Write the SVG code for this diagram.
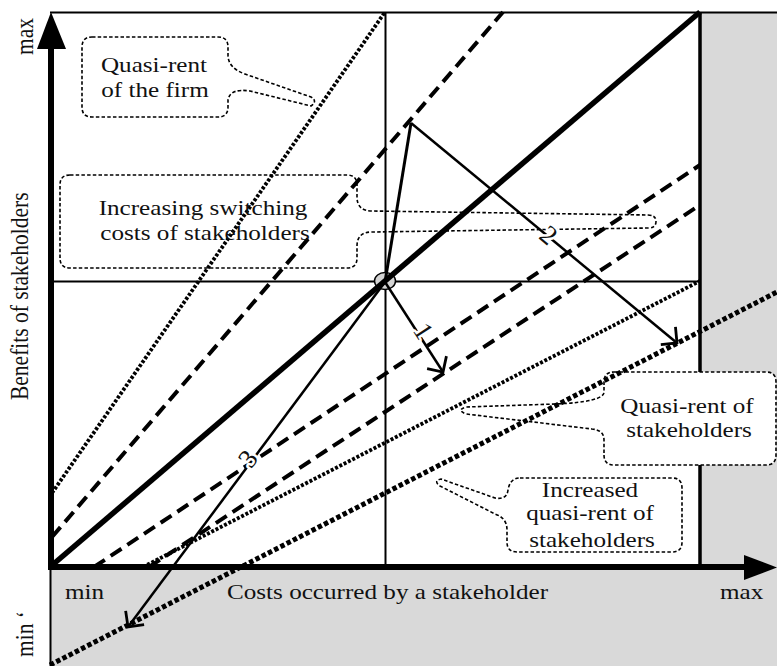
<svg xmlns="http://www.w3.org/2000/svg" width="777" height="666" viewBox="0 0 777 666">
<defs>
<style>
.txt{font-family:"Liberation Serif","Times New Roman",serif;font-size:21.5px;fill:#111}
.num{font-family:"Liberation Serif","Times New Roman",serif;font-size:27px;fill:#111;stroke:#fff;stroke-width:5;paint-order:stroke;stroke-linejoin:round}
.call{fill:none;stroke:#000;stroke-width:1.6;stroke-dasharray:3.5 2.2}
.dash{fill:none;stroke:#000;stroke-width:4;stroke-dasharray:13 7}
.dotf{fill:none;stroke:#000;stroke-width:3.8;stroke-dasharray:3 1.8}
.dotb{fill:none;stroke:#000;stroke-width:5;stroke-dasharray:4.5 2.5}
.ln{fill:none;stroke:#000}
.arr{fill:none;stroke:#000;stroke-width:2.5;marker-end:url(#open)}
</style>
<marker id="open" markerUnits="userSpaceOnUse" viewBox="-14 -14 16 28" markerWidth="16" markerHeight="28" refX="0" refY="0" orient="auto">
<path d="M-11.5,-11.5 L0,0 L-11.5,11.5" fill="none" stroke="#000" stroke-width="2.8"/>
</marker>
</defs>

<!-- shaded area outside the feasible cost range -->
<g id="shade">
<rect x="50" y="568" width="727" height="98" fill="#d9d9d9"/>
<rect x="701" y="13" width="76" height="555" fill="#d9d9d9"/>
</g>

<!-- callout box that sits over the shaded area gets an opaque fill -->
<g id="callout-stakeholders">
<path class="call" style="fill:#fff" d="M614,372 H766 Q776,372 776,382 V455 Q776,465 766,465 H614 Q604,465 604,455 V440 Q604,430 592,429 L466,414 Q456,410 466,407 L555,404 Q604,402 604,392 V382 Q604,372 614,372 Z"/>
</g>

<g id="frame">
<path class="ln" stroke-width="2" d="M50,12.5 H777"/>
<path class="ln" stroke-width="3.5" d="M700,12 V372 M700,465 V568"/>
<path class="ln" stroke-width="2" d="M385.5,12 V568"/>
<path class="ln" stroke-width="1.8" d="M50,281.5 H700"/>
<path class="ln" stroke-width="2" d="M50.5,568 V666"/>
</g>

<g id="origin-point">
<ellipse cx="385" cy="281" rx="10.5" ry="8.5" fill="#d4d4d4" stroke="#000" stroke-width="1.5"/>
</g>

<g id="connectors">
<path class="ln" stroke-width="5.5" d="M50,567 L700,12"/>
<path class="dotf" d="M52,493 L385,12"/>
<path class="dash" d="M52,537 L503,12"/>
<path class="dash" d="M94,567 L700,165"/>
<path class="dash" d="M149,567 L700,205"/>
<path class="dotf" d="M143,567 L700,281"/>
<path class="dotb" d="M50,665 L777,292"/>
<path class="ln" stroke-width="3" d="M385,282 L411,123"/>
<path class="arr" d="M411,123 L677,343"/>
<path class="arr" d="M385,282 L443,372"/>
<path class="arr" stroke-width="2.2" d="M385,282 L128,627"/>
</g>

<g id="axes">
<path class="ln" stroke-width="6" d="M51,45 V570"/>
<polygon points="51,12 37,49 66,49" fill="#000"/>
<path class="ln" stroke-width="6" d="M48,567 H746"/>
<polygon points="777,567.5 744,555 744,580" fill="#000"/>
</g>

<g id="callout-firm">
<path class="call" d="M92,37 H218 Q228,37 228,47 V55 Q228,68 245,74 L311,97 Q318,101 311,106 L250,91 Q230,88 228,100 V107 Q228,117 218,117 H92 Q82,117 82,107 V47 Q82,37 92,37 Z"/>
<text class="txt" text-anchor="middle" transform="translate(154,72) scale(1.17,1)">Quasi-rent</text>
<text class="txt" text-anchor="middle" transform="translate(155,97) scale(1.17,1)">of the firm</text>
</g>

<g id="callout-switching">
<path class="call" d="M70,175 H347 Q357,175 357,185 V197 Q357,211 372,211 L648,215 Q656,215 656,221.5 Q656,228 648,228 L372,232 Q357,232 357,246 V258 Q357,268 347,268 H70 Q60,268 60,258 V185 Q60,175 70,175 Z"/>
<text class="txt" text-anchor="middle" transform="translate(203,215) scale(1.17,1)">Increasing switching</text>
<text class="txt" text-anchor="middle" transform="translate(205,240) scale(1.17,1)">costs of stakeholders</text>
</g>

<g id="callout-stakeholders-text">
<text class="txt" text-anchor="middle" transform="translate(687,413) scale(1.17,1)">Quasi-rent of</text>
<text class="txt" text-anchor="middle" transform="translate(689,437) scale(1.17,1)">stakeholders</text>
</g>

<g id="callout-increased">
<path class="call" style="fill:#fff" d="M520,478 H672 Q682,478 682,488 V542 Q682,552 672,552 H517 Q507,552 507,542 V530 Q507,518 495,514 L440,486 Q433,481 441,479 L495,498 Q507,500 508,490 Q510,478 520,478 Z"/>
<text class="txt" text-anchor="middle" transform="translate(590,497) scale(1.17,1)">Increased</text>
<text class="txt" text-anchor="middle" transform="translate(590,520) scale(1.17,1)">quasi-rent of</text>
<text class="txt" text-anchor="middle" transform="translate(592,547) scale(1.17,1)">stakeholders</text>
</g>

<g id="step-labels">
<text class="num" text-anchor="middle" transform="translate(416,336) rotate(57)">1</text>
<text class="num" text-anchor="middle" transform="translate(543,242) rotate(39.5)">2</text>
<text class="num" text-anchor="middle" transform="translate(255,464) rotate(-53)">3</text>
</g>

<g id="axis-labels">
<text class="txt" transform="translate(33,55) scale(1.17,1) rotate(-90)">max</text>
<text class="txt" transform="translate(28,400) scale(1.17,1) rotate(-90)">Benefits of stakeholders</text>
<text class="txt" transform="translate(33,657) scale(1.17,1) rotate(-90)">min ‘</text>
<text class="txt" transform="translate(65,599) scale(1.17,1)">min</text>
<text class="txt" transform="translate(227,599) scale(1.17,1)">Costs occurred by a stakeholder</text>
<text class="txt" transform="translate(720,599) scale(1.17,1)">max</text>
</g>
</svg>
